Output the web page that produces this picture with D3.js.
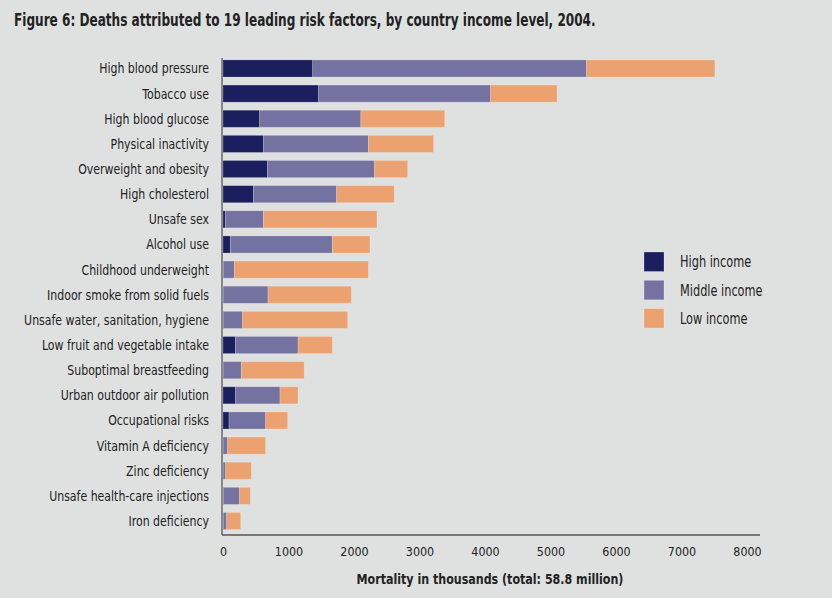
<!DOCTYPE html>
<html>
<head>
<meta charset="utf-8">
<script src="https://cdn.jsdelivr.net/npm/d3@7"></script>
<style>
  body { margin: 0; background: #dfe1e0; }
  svg { display: block; }
  text { font-family: "Liberation Sans Narrow", "DejaVu Sans Condensed", "Roboto Condensed", sans-serif; fill: #222; }
</style>
</head>
<body>
<script>
// values, thousands of deaths
const factors = [
  'High blood pressure', 'Tobacco use', 'High blood glucose', 'Physical inactivity',
  'Overweight and obesity', 'High cholesterol', 'Unsafe sex', 'Alcohol use',
  'Childhood underweight', 'Indoor smoke from solid fuels', 'Unsafe water, sanitation, hygiene',
  'Low fruit and vegetable intake', 'Suboptimal breastfeeding', 'Urban outdoor air pollution',
  'Occupational risks', 'Vitamin A deficiency', 'Zinc deficiency',
  'Unsafe health-care injections', 'Iron deficiency'
];
const highIncome   = [1370, 1460, 560, 620, 680, 465, 36, 112, 5, 3, 3, 190, 2, 193, 92, 2, 2, 5, 5];
const middleIncome = [4180, 2625, 1545, 1600, 1635, 1270, 580, 1557, 168, 684, 297, 957, 278, 677, 560, 69, 39, 249, 51];
const lowIncome    = [1960, 1015, 1280, 995, 505, 880, 1735, 575, 2046, 1272, 1603, 522, 960, 275, 336, 580, 392, 163, 214];

const seriesNames = ['High income', 'Middle income', 'Low income'];
const seriesColors = ['#1b1f5e', '#7372a1', '#eca270'];
const xTicks = [0, 1000, 2000, 3000, 4000, 5000, 6000, 7000, 8000];

const W = 832, H = 598;
const plot = { left: 223, right: 747, top: 55.9, bottom: 533.6 };

// squeeze text horizontally to get closer to the condensed face of the original
function condense(sel, k) {
    sel.each(function () {
        const len = this.getComputedTextLength();
        d3.select(this)
            .attr('textLength', len * k)
            .attr('lengthAdjust', 'spacingAndGlyphs');
    });
}

const svg = d3.select('body').append('svg')
    .attr('width', W)
    .attr('height', H);

svg.append('rect')
    .attr('width', W).attr('height', H)
    .attr('fill', '#dfe1e0');

svg.append('text')
    .attr('x', 14)
    .attr('y', 26)
    .style('font-size', '17px')
    .style('font-weight', 'bold')
    .text('Figure 6: Deaths attributed to 19 leading risk factors, by country income level, 2004.')
    .call(condense, 0.79);

const rows = factors.map((f, i) => ({
    factor: f,
    'High income': highIncome[i],
    'Middle income': middleIncome[i],
    'Low income': lowIncome[i]
}));

const stacked = d3.stack().keys(seriesNames)(rows);

const x = d3.scaleLinear()
    .domain([0, 8000])
    .range([plot.left, plot.right]);

const y = d3.scaleBand()
    .domain(factors)
    .range([plot.top, plot.bottom])
    .paddingInner(0.32)
    .paddingOuter(0.16);

const color = d3.scaleOrdinal().domain(seriesNames).range(seriesColors);

svg.append('g')
  .selectAll('g')
  .data(stacked)
  .enter().append('g')
    .attr('fill', d => color(d.key))
  .selectAll('rect')
  .data(d => d)
  .enter().append('rect')
    .attr('x', d => x(d[0]))
    .attr('y', d => y(d.data.factor))
    .attr('width', d => Math.max(0, x(d[1]) - x(d[0])))
    .attr('height', y.bandwidth())
    .attr('stroke', 'rgba(255,255,255,0.25)')
    .attr('stroke-width', 0.8);

// category labels
svg.append('g')
  .selectAll('text')
  .data(factors)
  .enter().append('text')
    .attr('x', 209)
    .attr('y', d => y(d) + y.bandwidth() / 2)
    .attr('dy', '0.35em')
    .attr('text-anchor', 'end')
    .style('font-size', '14px')
    .text(d => d)
    .call(condense, 0.87);

// axes lines
svg.append('line')
    .attr('x1', 222).attr('x2', 222)
    .attr('y1', 58).attr('y2', 535)
    .attr('stroke', '#555').attr('stroke-width', 1.3);
svg.append('line')
    .attr('x1', 222).attr('x2', 760)
    .attr('y1', 535).attr('y2', 535)
    .attr('stroke', '#555').attr('stroke-width', 1.3);

const xAxis = d3.axisBottom(x)
    .tickValues(xTicks)
    .tickSize(0)
    .tickPadding(12)
    .tickFormat(d3.format('d'));

const xAxisGroup = svg.append('g')
    .attr('transform', 'translate(0,535)')
    .call(xAxis);
xAxisGroup.select('.domain').remove();
xAxisGroup.selectAll('text')
    .style('font-size', '13px')
    .style('font-family', '"Liberation Sans Narrow", "DejaVu Sans Condensed", sans-serif')
    .attr('fill', '#222')
    .call(condense, 0.95);

svg.append('text')
    .attr('x', 490)
    .attr('y', 584)
    .attr('text-anchor', 'middle')
    .style('font-size', '14px')
    .style('font-weight', 'bold')
    .text('Mortality in thousands (total: 58.8 million)')
    .call(condense, 0.88);

// legend
const legend = svg.append('g')
    .selectAll('g')
    .data(seriesNames)
    .enter().append('g')
    .attr('transform', (d, i) => `translate(644,${252 + i * 28.3})`);

legend.append('rect')
    .attr('width', 20)
    .attr('height', 19.5)
    .attr('fill', d => color(d))
    .attr('stroke', 'rgba(255,255,255,0.3)')
    .attr('stroke-width', 0.8);

legend.append('text')
    .attr('x', 36)
    .attr('y', 10)
    .attr('dy', '0.35em')
    .style('font-size', '15px')
    .text(d => d)
    .call(condense, 0.84);
</script>
</body>
</html>
